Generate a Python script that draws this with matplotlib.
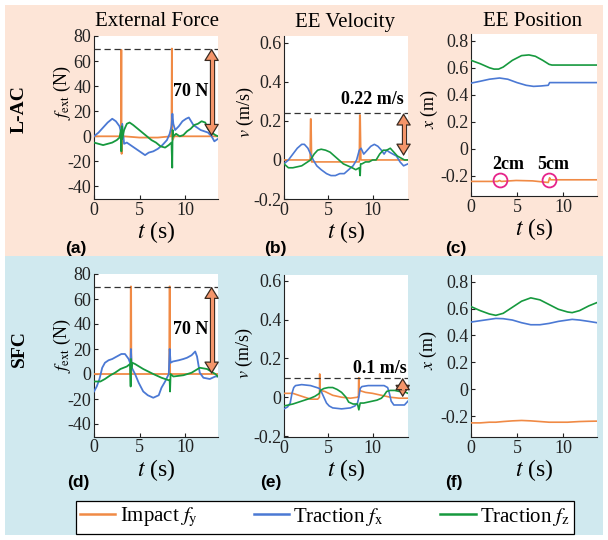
import matplotlib
matplotlib.use("Agg")
import matplotlib.pyplot as plt
import matplotlib.patches as patches
from matplotlib.lines import Line2D

plt.rcParams['font.family'] = 'Liberation Serif'
plt.rcParams['mathtext.fontset'] = 'stix'
plt.rcParams['axes.unicode_minus'] = False

W, H = 608, 540

ORANGE = '#F08A45'
BLUE = '#4B79D4'
GREEN = '#16993E'
PEACH = '#FDE5D7'
SKY = '#D0E9EF'
ARROW_FILL = '#F4956A'
DARK = '#3A2A20'
MAGENTA = '#E6248A'

# ---------------- L-AC : external force ----------------
fy_a_t = [0, 2.9, 2.97, 3.0, 3.03, 3.06, 3.1, 3.3, 5.0, 7.0, 8.45, 8.5, 8.54, 8.58, 8.62, 8.8, 11.0, 13.6]
fy_a = [0, 0, 6, 69, -14, 9, -2, 0, -1, -1, 0, 10, 70, 2, -3, 0, 0, 0]
fx_a_t = [0, 0.5, 1.0, 1.5, 2.0, 2.4, 2.8, 3.0, 3.1, 3.3, 3.6, 4.2, 4.8, 5.2, 5.6, 6.0, 6.5, 7.0, 7.5, 8.0,
          8.3, 8.5, 8.6, 8.7, 8.9, 9.3, 9.7, 10.1, 10.4, 10.9, 11.3, 11.7, 12.1, 12.5, 12.9, 13.2, 13.6]
fx_a = [0, 3, 7, 11, 14, 12, 8, 2, 10, -6, -5, -8, -11, -13, -15, -13, -12, -10, -7, -3,
        2, 8, 18, 10, 5, 8, 12, 14, 15, 9, 7, 5, 4, 3, 0, -4, -2]
fz_a_t = [0, 0.5, 1.0, 1.5, 2.0, 2.5, 2.8, 2.95, 3.0, 3.05, 3.1, 3.3, 3.6, 3.9, 4.3, 4.8, 5.3, 5.8, 6.3, 6.8,
          7.3, 7.8, 8.2, 8.5, 8.58, 8.62, 8.7, 9.0, 9.4, 9.8, 10.2, 10.6, 11.0, 11.4, 11.8, 12.2, 12.5, 12.9, 13.3, 13.6]
fz_a = [-5, -6, -7, -6, -5, -3, -1, 5, -12, 8, -2, 5, 10, 11, 9, 6, 3, 0, -3, -5,
        -8, -9, -7, -5, -25, 5, 0, 2, 0, 1, 4, 6, 9, 10, 12, 11, 6, 3, 1, 0]

# ---------------- L-AC : EE velocity ----------------
vy_b_t = [0, 2.95, 3.0, 3.05, 3.12, 3.2, 5.0, 8.0, 8.5, 8.55, 8.6, 8.68, 8.75, 10.0, 14.0]
vy_b = [0, 0, 0.21, 0.21, -0.01, -0.01, -0.01, -0.01, -0.01, 0.23, 0.23, 0.0, 0.0, 0.0, 0.0]
vx_b_t = [0, 0.5, 1.0, 1.5, 2.0, 2.3, 2.7, 3.0, 3.3, 3.7, 4.2, 4.8, 5.3, 5.8, 6.3, 6.8, 7.3, 7.8,
          8.2, 8.5, 8.7, 9.0, 9.4, 9.8, 10.2, 10.6, 11.0, 11.3, 11.6, 11.9, 12.3, 12.7, 13.1, 13.5, 14.0]
vx_b = [-0.02, 0.0, 0.03, 0.06, 0.08, 0.08, 0.06, 0.03, 0.0, -0.03, -0.05, -0.07, -0.08, -0.08, -0.07, -0.07, -0.05, -0.03,
        0.0, 0.05, 0.06, 0.03, 0.05, 0.07, 0.08, 0.07, 0.05, 0.03, 0.05, 0.04, 0.03, 0.02, -0.01, -0.03, -0.02]
vz_b_t = [0, 0.5, 1.0, 1.5, 2.0, 2.5, 3.0, 3.4, 3.8, 4.2, 4.7, 5.2, 5.7, 6.2, 6.7, 7.2, 7.7, 8.1, 8.5,
          8.6, 8.65, 8.8, 9.2, 9.6, 10.0, 10.4, 10.8, 11.2, 11.6, 12.0, 12.4, 12.8, 13.2, 13.6, 14.0]
vz_b = [-0.02, -0.04, -0.04, -0.035, -0.03, -0.015, 0.0, 0.03, 0.05, 0.055, 0.05, 0.04, 0.02, 0.0, -0.02, -0.03, -0.04, -0.05, -0.04,
        -0.08, -0.02, -0.02, -0.01, -0.01, 0.0, 0.0, 0.03, 0.05, 0.05, 0.06, 0.04, 0.02, 0.01, 0.0, 0.0]

# ---------------- L-AC : EE position ----------------
xz_c_t = [0, 1.0, 2.0, 2.5, 3.0, 3.5, 4.5, 5.5, 6.3, 7.0, 7.8, 8.5, 8.8, 10.0, 13.7]
xz_c = [0.655, 0.63, 0.6, 0.59, 0.59, 0.605, 0.655, 0.69, 0.695, 0.685, 0.655, 0.625, 0.62, 0.62, 0.62]
xx_c_t = [0, 1.0, 2.0, 3.1, 4.0, 5.0, 6.0, 6.8, 7.6, 8.4, 8.55, 9.0, 13.7]
xx_c = [0.486, 0.5, 0.515, 0.524, 0.515, 0.49, 0.47, 0.462, 0.465, 0.47, 0.49, 0.49, 0.49]
xy_c_t = [0, 2.9, 3.1, 3.3, 4.9, 6.7, 8.4, 8.55, 8.65, 9.0, 13.7]
xy_c = [-0.242, -0.242, -0.235, -0.242, -0.235, -0.238, -0.25, -0.215, -0.23, -0.23, -0.23]

# ---------------- SFC : external force ----------------
fy_d_t = [0, 4.0, 4.03, 4.07, 4.1, 6.0, 8.25, 8.28, 8.32, 8.35, 13.6]
fy_d = [0, 0, 70, 70, 0, 0, 0, 70, 70, 0, 0]
fx_d_t = [0, 0.3, 0.6, 0.9, 1.2, 1.6, 2.0, 2.5, 3.0, 3.4, 3.8, 4.0, 4.05, 4.15, 4.5, 4.9, 5.4, 5.9, 6.5, 7.1,
          7.4, 7.8, 8.2, 8.3, 8.4, 8.65, 9.3, 9.8, 10.2, 10.7, 11.1, 11.3, 11.6, 12.0, 12.7, 13.3, 13.6]
fx_d = [-14, -10, -4, 5, 9, 11, 12, 14, 16, 16, 12, 8, 20, 5, 0, -7, -14, -17, -19, -17,
        -11, -6, 0, 20, 9, 10, 11, 12, 13, 15, 18, 14, 1, -3, -4, -2, -2]
fz_d_t = [0, 0.7, 1.2, 1.8, 2.3, 2.9, 3.6, 3.95, 4.02, 4.06, 4.1, 4.2, 4.5, 5.4, 6.5, 7.4, 8.2, 8.3, 8.34, 8.4,
          8.7, 9.8, 10.7, 11.6, 12.4, 13.3, 13.6]
fz_d = [-6, -6, -4, -1, 1, 4, 6, 8, -10, 12, 4, 9, 8, 4, 0, -3, -5, -5, -14, 0,
        -2, -1, 1, 5, 4, 0, -2]

# ---------------- SFC : EE velocity ----------------
vy_e_t = [0, 1.0, 2.0, 3.0, 3.8, 4.0, 4.03, 4.06, 4.1, 4.6, 5.5, 6.5, 7.5, 8.3, 8.4, 8.43, 8.47, 8.5, 9.2, 10.0, 11.0, 12.0, 13.0, 14.0]
vy_e = [0.02, 0.02, 0.005, -0.01, -0.01, 0.0, 0.12, 0.06, 0.035, 0.03, 0.01, 0.0, -0.005, 0.0, 0.0, 0.1, 0.1, 0.035, 0.025, 0.02, 0.01, 0.0, -0.005, -0.005]
vx_e_t = [0, 0.4, 0.7, 0.9, 1.1, 1.3, 2.0, 3.0, 3.7, 4.0, 4.2, 4.5, 4.8, 5.1, 5.5, 6.5, 7.5, 8.0, 8.3, 8.45,
          8.6, 8.8, 9.5, 10.5, 11.3, 11.7, 11.9, 12.1, 12.4, 13.0, 13.6, 14.0]
vx_e = [-0.06, -0.05, -0.03, 0.02, 0.05, 0.06, 0.065, 0.06, 0.05, 0.045, 0.03, 0.0, -0.03, -0.045, -0.055, -0.06, -0.055, -0.045, -0.03, 0.0,
        0.045, 0.055, 0.06, 0.06, 0.06, 0.05, 0.02, -0.02, -0.04, -0.04, -0.04, -0.02]
vz_e_t = [0, 1.0, 2.0, 3.0, 3.5, 4.0, 4.1, 4.5, 5.0, 5.5, 6.0, 6.5, 7.0, 7.3, 7.8, 8.3, 8.45, 8.6, 9.0, 9.5,
          10.0, 10.5, 11.0, 11.3, 11.6, 12.0, 12.5, 13.0, 13.5, 14.0]
vz_e = [-0.045, -0.035, -0.02, -0.005, 0.005, 0.02, 0.035, 0.045, 0.05, 0.05, 0.04, 0.025, 0.0, -0.025, -0.035, -0.035, -0.065, -0.03, -0.03, -0.025,
        -0.02, -0.015, -0.005, 0.01, 0.03, 0.035, 0.035, 0.03, 0.03, 0.02]

# ---------------- SFC : EE position ----------------
pos_f_t = [0, 1.0, 2.0, 2.7, 3.5, 4.5, 5.5, 6.5, 7.5, 8.5, 9.5, 10.5, 11.0, 11.8, 12.8, 13.7]
xz_f = [0.615, 0.585, 0.56, 0.55, 0.565, 0.61, 0.655, 0.68, 0.665, 0.63, 0.595, 0.575, 0.57, 0.585, 0.62, 0.645]
xx_f = [0.5, 0.51, 0.52, 0.527, 0.525, 0.515, 0.495, 0.48, 0.48, 0.49, 0.505, 0.515, 0.52, 0.515, 0.505, 0.495]
xy_f = [-0.25, -0.25, -0.245, -0.245, -0.24, -0.235, -0.232, -0.235, -0.24, -0.245, -0.245, -0.245, -0.243, -0.24, -0.238, -0.237]

force_ticks = [-40, -20, 0, 20, 40, 60, 80]
vel_ticks = [-0.2, 0, 0.2, 0.4, 0.6]
vel_labels = ['-0.2', '0', '0.2', '0.4', '0.6']
pos_ticks = [-0.2, 0, 0.2, 0.4, 0.6, 0.8]
pos_labels = ['-0.2', '0', '0.2', '0.4', '0.6', '0.8']

legend_labels = ['Impact $f_\\mathrm{y}$', 'Traction $f_\\mathrm{x}$', 'Traction $f_\\mathrm{z}$']


def fig_box(left, top, right, bottom):
    return [left / W, 1 - bottom / H, (right - left) / W, (bottom - top) / H]


def px(x, y):
    return x / W, 1 - y / H


def style(ax, xlim, ylim, yticks, ylabels=None):
    ax.set_xlim(*xlim)
    ax.set_ylim(*ylim)
    ax.set_xticks([0, 5, 10])
    ax.set_yticks(yticks)
    if ylabels is not None:
        ax.set_yticklabels(ylabels)
    for s in ['top', 'right']:
        ax.spines[s].set_visible(False)
    for s in ['left', 'bottom']:
        ax.spines[s].set_linewidth(0.8)
        ax.spines[s].set_color('#222222')
    ax.tick_params(direction='in', length=3, width=0.8, labelsize=13, colors='#222222')
    ax.tick_params(axis='x', pad=2)
    ax.tick_params(axis='y', pad=2)


def span_arrow(ax, x, y0, y1):
    # double headed arrow: dark outline, orange body
    bb = ax.get_position()
    ylo, yhi = ax.get_ylim()
    px_per_unit = bb.height * H / (yhi - ylo)
    d = 9.0 / px_per_unit
    ax.plot([x, x], [y0 + d, y1 - d], color=DARK, lw=3.8, solid_capstyle='butt', zorder=6)
    ax.annotate('', xy=(x, y1), xytext=(x, y0),
                arrowprops=dict(arrowstyle='<|-|>,head_length=0.55,head_width=0.34',
                                fc=ARROW_FILL, ec=DARK, lw=0.9, mutation_scale=14,
                                shrinkA=0, shrinkB=0), zorder=7)
    ax.plot([x, x], [y0 + d * 0.8, y1 - d * 0.8], color=ARROW_FILL, lw=2.2,
            solid_capstyle='butt', zorder=8)


fig = plt.figure(figsize=(W / 100, H / 100), dpi=100)
fig.patch.set_facecolor('white')
fig.add_artist(patches.Rectangle(px(5, 256), 598 / W, 251 / H, transform=fig.transFigure,
                                 facecolor=PEACH, edgecolor='none', zorder=-5))
fig.add_artist(patches.Rectangle(px(5, 535), 598 / W, 279 / H, transform=fig.transFigure,
                                 facecolor=SKY, edgecolor='none', zorder=-5))

ax_a = fig.add_axes(fig_box(94, 36, 218, 199))
ax_b = fig.add_axes(fig_box(284, 36, 408, 199))
ax_c = fig.add_axes(fig_box(471, 34, 597, 196))
ax_d = fig.add_axes(fig_box(94, 274, 218, 436.5))
ax_e = fig.add_axes(fig_box(284, 275, 408, 437))
ax_f = fig.add_axes(fig_box(471, 275, 597, 437))

# force panels
for ax, series in [(ax_a, [(fy_a_t, fy_a), (fx_a_t, fx_a), (fz_a_t, fz_a)]),
                   (ax_d, [(fy_d_t, fy_d), (fx_d_t, fx_d), (fz_d_t, fz_d)])]:
    for (t, v), c in zip(series, [ORANGE, BLUE, GREEN]):
        ax.plot(t, v, color=c, lw=1.3, zorder=3)
    style(ax, (0, 13.6), (-50, 80), force_ticks)
    ax.axhline(70, color='#333333', lw=0.9, ls=(0, (5, 3)), zorder=4)
    span_arrow(ax, 12.9, 0, 70)
    ax.text(10.6, 36, '70 N', fontsize=13, fontweight='bold', ha='center', va='center', zorder=9)

# velocity panels
for ax, series in [(ax_b, [(vy_b_t, vy_b), (vx_b_t, vx_b), (vz_b_t, vz_b)]),
                   (ax_e, [(vy_e_t, vy_e), (vx_e_t, vx_e), (vz_e_t, vz_e)])]:
    for (t, v), c in zip(series, [ORANGE, BLUE, GREEN]):
        ax.plot(t, v, color=c, lw=1.2, zorder=3)
style(ax_b, (0, 14), (-0.2, 0.635), vel_ticks, vel_labels)
style(ax_e, (0, 14), (-0.205, 0.63), vel_ticks, vel_labels)
ax_b.axhline(0.24, color='#333333', lw=0.9, ls=(0, (5, 3)), zorder=4)
span_arrow(ax_b, 13.5, 0.02, 0.24)
ax_b.text(10.0, 0.31, '0.22 m/s', fontsize=13, fontweight='bold', ha='center', va='center')
ax_e.axhline(0.1, color='#333333', lw=0.9, ls=(0, (5, 3)), zorder=4)
span_arrow(ax_e, 13.4, 0.0, 0.1)
ax_e.text(10.8, 0.15, '0.1 m/s', fontsize=13, fontweight='bold', ha='center', va='center')

# position panels
ax_c.plot(xy_c_t, xy_c, color=ORANGE, lw=1.2, zorder=3)
ax_c.plot(xx_c_t, xx_c, color=BLUE, lw=1.2, zorder=3)
ax_c.plot(xz_c_t, xz_c, color=GREEN, lw=1.2, zorder=3)
ax_f.plot(pos_f_t, xy_f, color=ORANGE, lw=1.2, zorder=3)
ax_f.plot(pos_f_t, xx_f, color=BLUE, lw=1.2, zorder=3)
ax_f.plot(pos_f_t, xz_f, color=GREEN, lw=1.2, zorder=3)
style(ax_c, (0, 13.7), (-0.35, 0.85), pos_ticks, pos_labels)
style(ax_f, (0, 13.7), (-0.355, 0.85), pos_ticks, pos_labels)
ax_c.plot([3.1, 8.5], [-0.235, -0.23], ls='none', marker='o', ms=10, mfc='none',
          mec=MAGENTA, mew=1.3, zorder=5)
ax_c.text(4.1, -0.118, '2cm', fontsize=13, fontweight='bold', ha='center', va='center')
ax_c.text(8.9, -0.118, '5cm', fontsize=13, fontweight='bold', ha='center', va='center')

# axis labels
ylab = [(ax_a, '$f_\\mathrm{ext}$ (N)', -0.255, 0.655), (ax_d, '$f_\\mathrm{ext}$ (N)', -0.255, 0.56),
        (ax_b, '$v$ (m/s)', -0.31, 0.53), (ax_e, '$v$ (m/s)', -0.32, 0.52),
        (ax_c, '$x$ (m)', -0.33, 0.54), (ax_f, '$x$ (m)', -0.335, 0.54)]
for ax, s, x, y in ylab:
    ax.text(x, y, s, rotation=90, fontsize=13, ha='center', va='center', transform=ax.transAxes)
for ax in [ax_a, ax_b, ax_c, ax_d, ax_e, ax_f]:
    ax.text(0.5, -0.205, '$t$ (s)', fontsize=17, ha='center', va='center', transform=ax.transAxes)

# titles
fig.text(*px(157, 22), 'External Force', fontsize=15, ha='center', va='center')
fig.text(*px(345, 22), 'EE Velocity', fontsize=15, ha='center', va='center')
fig.text(*px(533, 22), 'EE Position', fontsize=15, ha='center', va='center')

# row labels
fig.text(*px(19, 109), 'L-AC', fontsize=14, fontweight='bold', rotation=90, ha='center', va='center')
fig.text(*px(19, 349), 'SFC', fontsize=14, fontweight='bold', rotation=90, ha='center', va='center')

# panel letters
for s, x, y in [('(a)', 76, 249), ('(b)', 275, 249), ('(c)', 456, 249),
                ('(d)', 78, 483), ('(e)', 271, 483), ('(f)', 454, 483)]:
    fig.text(*px(x, y), s, fontsize=12.5, fontweight='bold', family='Liberation Sans',
             ha='center', va='center')

handles = [Line2D([], [], color=c, lw=1.8) for c in [ORANGE, BLUE, GREEN]]
leg = fig.legend(handles, legend_labels, loc='center', bbox_to_anchor=px(325, 517.5), ncol=3,
                 fontsize=15, frameon=True, fancybox=False, edgecolor='black', framealpha=1,
                 handlelength=1.7, handletextpad=0.2, columnspacing=2.7, borderpad=0.2)
leg.get_frame().set_linewidth(0.9)

fig.savefig('out.png', dpi=100)
